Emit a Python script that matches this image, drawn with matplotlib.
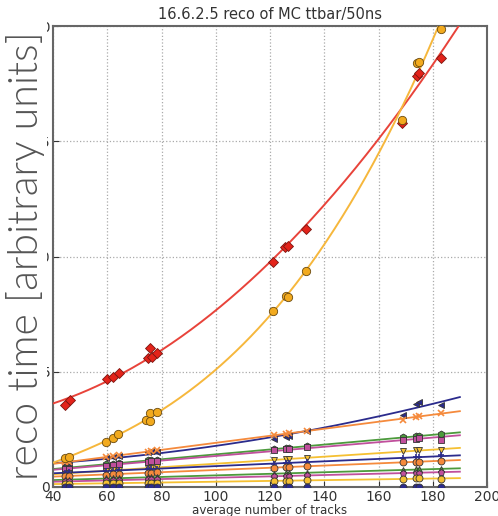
import numpy as np
import matplotlib
matplotlib.use("Agg")
import matplotlib.pyplot as plt
from matplotlib.patches import Rectangle

# average number of tracks for each reconstructed sample
tracks = [44.5, 46.0, 59.5, 62.0, 64.5, 75.0, 76.0, 78.5,
          121.5, 126.0, 127.0, 133.5, 169.0, 174.0, 175.0, 183.0]

# total reconstruction time
total_x = [44.5, 46.3, 60.0, 62.0, 64.4, 75.0, 75.8, 76.6, 78.3,
           121.1, 125.5, 126.6, 133.3, 168.7, 174.2, 174.8, 183.0]
total_y = [3.56, 3.77, 4.69, 4.78, 4.95, 5.60, 6.03, 5.62, 5.81,
           9.76, 10.41, 10.46, 11.19, 15.80, 17.83, 17.95, 18.61]

# inner-detector tracking time
idtrk_x = [44.5, 46.0, 59.5, 62.0, 64.1, 74.3, 75.8, 75.8, 78.2,
           121.1, 125.8, 126.5, 133.3, 168.7, 174.2, 174.8, 183.0]
idtrk_y = [1.26, 1.31, 1.97, 2.11, 2.30, 2.91, 2.88, 3.20, 3.24,
           7.64, 8.29, 8.25, 9.37, 15.92, 18.40, 18.45, 19.87]

# per-algorithm times, one list per algorithm, at the values in `tracks`
alg_a = [0.95, 0.97, 1.25, 1.30, 1.35, 1.50, 1.55, 1.52, 2.10, 2.15, 2.20, 2.42, 3.12, 3.62, 3.70, 3.56]
alg_b = [1.07, 1.09, 1.30, 1.34, 1.37, 1.54, 1.55, 1.59, 2.25, 2.32, 2.33, 2.43, 2.90, 3.05, 3.07, 3.22]
alg_c = [0.83, 0.84, 0.99, 1.01, 1.04, 1.15, 1.16, 1.19, 1.64, 1.69, 1.70, 1.77, 2.15, 2.20, 2.21, 2.30]
alg_d = [0.77, 0.78, 0.93, 0.96, 0.98, 1.10, 1.11, 1.13, 1.59, 1.64, 1.65, 1.72, 2.05, 2.10, 2.12, 2.04]
alg_e = [0.58, 0.60, 0.70, 0.72, 0.74, 0.82, 0.83, 0.85, 1.18, 1.21, 1.22, 1.27, 1.55, 1.59, 1.59, 1.60]
alg_f = [0.62, 0.63, 0.70, 0.71, 0.72, 0.78, 0.78, 0.80, 1.01, 1.04, 1.04, 1.07, 1.25, 1.28, 1.28, 1.39]
alg_g = [0.47, 0.48, 0.54, 0.56, 0.57, 0.62, 0.62, 0.64, 0.84, 0.86, 0.87, 0.90, 1.07, 1.09, 1.10, 1.14]
alg_h = [0.32, 0.32, 0.37, 0.37, 0.38, 0.42, 0.42, 0.43, 0.58, 0.59, 0.60, 0.62, 0.74, 0.76, 0.76, 0.78]
alg_i = [0.24, 0.25, 0.29, 0.29, 0.30, 0.33, 0.33, 0.34, 0.46, 0.48, 0.48, 0.50, 0.60, 0.61, 0.62, 0.66]
alg_j = [0.13, 0.13, 0.16, 0.16, 0.17, 0.19, 0.19, 0.19, 0.27, 0.28, 0.28, 0.29, 0.36, 0.37, 0.37, 0.33]
alg_k = [0.01, 0.01, 0.01, 0.01, 0.01, 0.01, 0.01, 0.01, 0.01, 0.01, 0.01, 0.01, 0.01, 0.01, 0.01, 0.01]

y_ticks = [0, 5, 10, 15, 20]
x_ticks = [40, 60, 80, 100, 120, 140, 160, 180, 200]

NAVY = "#2b2b8c"
ORANGE = "#f58a3c"
GREEN = "#4c9a3c"
MAGENTA = "#c04f9c"
YELLOW = "#f5c032"

algs = [
    (alg_a, NAVY, "<", 2),
    (alg_b, ORANGE, "x", 1),
    (alg_c, GREEN, "h", 1),
    (alg_d, MAGENTA, "s", 1),
    (alg_e, YELLOW, "v", 1),
    (alg_f, NAVY, "+", 1),
    (alg_g, ORANGE, "o", 1),
    (alg_h, GREEN, "^", 1),
    (alg_i, MAGENTA, "p", 1),
    (alg_j, YELLOW, "o", 1),
    (alg_k, NAVY, "o", 1),
]

W, H = 498, 516
fig = plt.figure(figsize=(W / 100, H / 100), dpi=100)
ax = fig.add_axes([53 / W, 1 - 487 / H, 434 / W, 461 / H])

xfit = np.linspace(40, 190, 300)
xs = np.array(tracks)
for vals, col, mk, deg in algs:
    coef = np.polyfit(xs, vals, deg)
    ax.plot(xfit, np.polyval(coef, xfit), color=col, lw=1.3, zorder=2)
    plain = mk in ("x", "+")
    ax.plot(xs, vals, ls="none", marker=mk, color=col, ms=5,
            mec=col if plain else "#333333", mew=1.2 if plain else 0.6,
            zorder=3)

xc = np.linspace(40, 200, 400)
c_tot = np.polyfit(total_x, total_y, 2)
ax.plot(xc, np.polyval(c_tot, xc), color="#e8433a", lw=1.4, zorder=4)
ax.plot(total_x, total_y, ls="none", marker="D", color="#e3231a", ms=5.5,
        mec="#7a1510", mew=0.6, zorder=5)

c_id = np.polyfit(idtrk_x, idtrk_y, 3)
ax.plot(xc, np.polyval(c_id, xc), color="#f6b73c", lw=1.4, zorder=4)
ax.plot(idtrk_x, idtrk_y, ls="none", marker="o", color="#f2aa1e", ms=6,
        mec="#6a4a10", mew=0.6, zorder=5)

ax.set_xlim(40, 200)
ax.set_ylim(0, 20)
ax.set_xticks(x_ticks)
ax.set_yticks(y_ticks)
ax.set_yticklabels([str(t) for t in y_ticks])
ax.tick_params(direction="in", length=4, labelsize=10, colors="#333333", pad=2)
ax.grid(True, ls=":", color="#aaaaaa", lw=0.9)
for sp in ax.spines.values():
    sp.set_color("#666666")
    sp.set_linewidth(1.5)

ax.set_title("16.6.2.5 reco of MC ttbar/50ns", fontsize=10.5, color="#333333", pad=5)
ax.set_xlabel("average number of tracks", fontsize=8.6, color="#333333", labelpad=0)

# white panel behind the large axis title; only the "0" label stays clear
fig.add_artist(Rectangle((0, (H - 476) / H), 47 / W, 458 / H,
                         transform=fig.transFigure, facecolor="white",
                         edgecolor="none", zorder=5))

fig.text(0.052, 0.505, "reco time [arbitrary units]", rotation=90,
         ha="center", va="center", fontsize=29.5, color="#555555",
         family="Lato", fontweight=300, zorder=10)

fig.savefig("out.png", dpi=100)
